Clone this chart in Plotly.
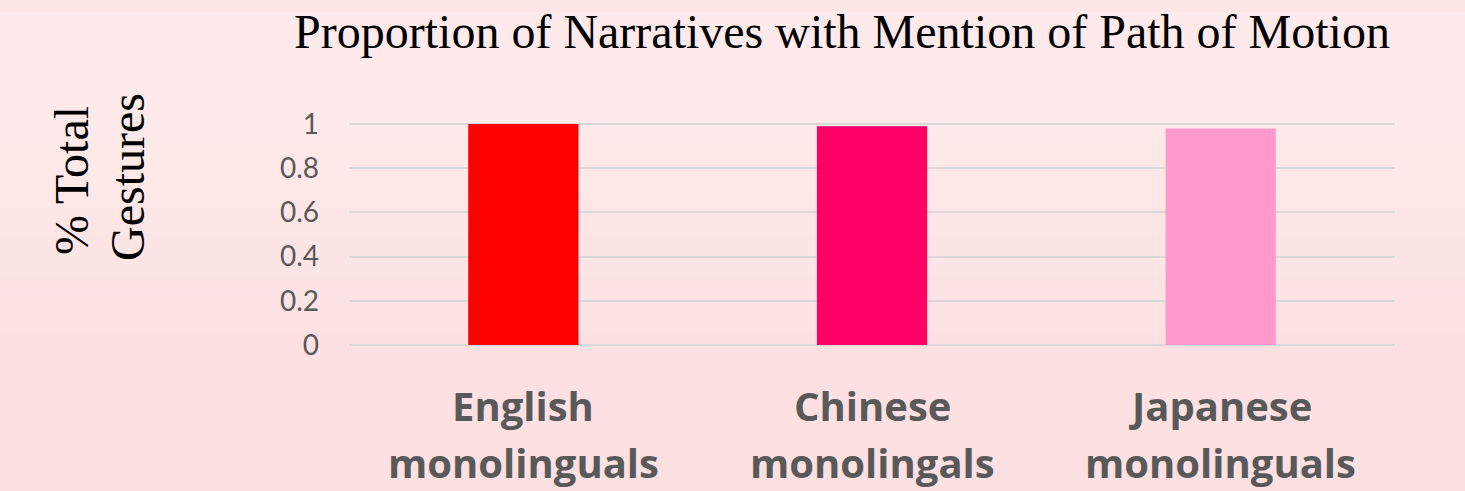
import plotly.graph_objects as go

categories = ["English monolinguals", "Chinese monolingals", "Japanese monolinguals"]
label_line1 = ["English", "Chinese", "Japanese"]
label_line2 = ["monolinguals", "monolingals", "monolinguals"]
values = [1.0, 0.99, 0.98]
bar_colors = ["#FF0000", "#FF0066", "#FF99CC"]
y_ticks = [0, 0.2, 0.4, 0.6, 0.8, 1]
y_tick_labels = ["0", "0.2", "0.4", "0.6", "0.8", "1"]

fig = go.Figure()
fig.add_trace(go.Bar(x=categories, y=values, marker=dict(color=bar_colors, line=dict(width=0)),
                     hoverinfo="skip"))

# subtle vertical gradient background
top = (254, 234, 234)
bot = (253, 225, 226)
n = 16
shapes = []
for i in range(n):
    t = i / (n - 1)
    c = tuple(round(top[k] + (bot[k] - top[k]) * t) for k in range(3))
    shapes.append(dict(type="rect", xref="paper", yref="paper", layer="below",
                       x0=-1, x1=2, y0=1 - (i + 1) / n - 0.001, y1=1 - i / n + 0.5 * (i == 0) + 0.001,
                       fillcolor="rgb(%d,%d,%d)" % c, line=dict(width=0)))
shapes[-1]["y0"] = -1

PLOT_H = 222.0
BOTTOM = 345.0


def py(pix):
    return (BOTTOM - pix) / PLOT_H


xfont = dict(family="Open Sans", size=40, color="#595959", weight="bold")
annotations = [
    dict(text="% Total", textangle=-90, xref="paper", yref="paper",
         x=(71 - 349) / 1046, y=py(181), xanchor="center", yanchor="middle",
         showarrow=False, font=dict(family="Liberation Serif", size=48, color="#000000")),
    dict(text="Gestures", textangle=-90, xref="paper", yref="paper",
         x=(127 - 349) / 1046, y=py(177), xanchor="center", yanchor="middle",
         showarrow=False, font=dict(family="Liberation Serif", size=48, color="#000000")),
]
for cat, l1, l2 in zip(categories, label_line1, label_line2):
    annotations.append(dict(text=l1, xref="x", yref="paper", x=cat, y=py(376),
                            xanchor="center", yanchor="top", showarrow=False, font=xfont))
    annotations.append(dict(text=l2, xref="x", yref="paper", x=cat, y=py(433),
                            xanchor="center", yanchor="top", showarrow=False, font=xfont))

fig.update_layout(
    width=1465, height=491,
    margin=dict(l=349, r=70, t=123, b=146),
    paper_bgcolor="rgb(254,230,230)",
    plot_bgcolor="rgba(0,0,0,0)",
    shapes=shapes,
    bargap=0.684,
    showlegend=False,
    title=dict(text="Proportion of Narratives with Mention of Path of Motion",
               font=dict(family="Liberation Serif", size=48, color="#000000"),
               x=842 / 1465, xanchor="center", xref="container",
               y=1 - 31 / 491, yanchor="middle", yref="container"),
    xaxis=dict(showticklabels=False, showgrid=False, showline=False, ticks="", automargin=False),
    yaxis=dict(range=[0, 1.005], tickvals=y_ticks, ticktext=y_tick_labels,
               tickfont=dict(family="Lato", size=28, color="#595959"),
               showgrid=True, gridcolor="#D9D9D9", gridwidth=1.5,
               zeroline=True, zerolinecolor="#D9D9D9", zerolinewidth=1.5,
               showline=False, ticks="", ticklabelstandoff=29, automargin=False),
    annotations=annotations,
)

fig.write_html("out.html", config={"displayModeBar": False},
               post_script="document.body.style.margin='0';document.body.style.overflow='hidden';")
